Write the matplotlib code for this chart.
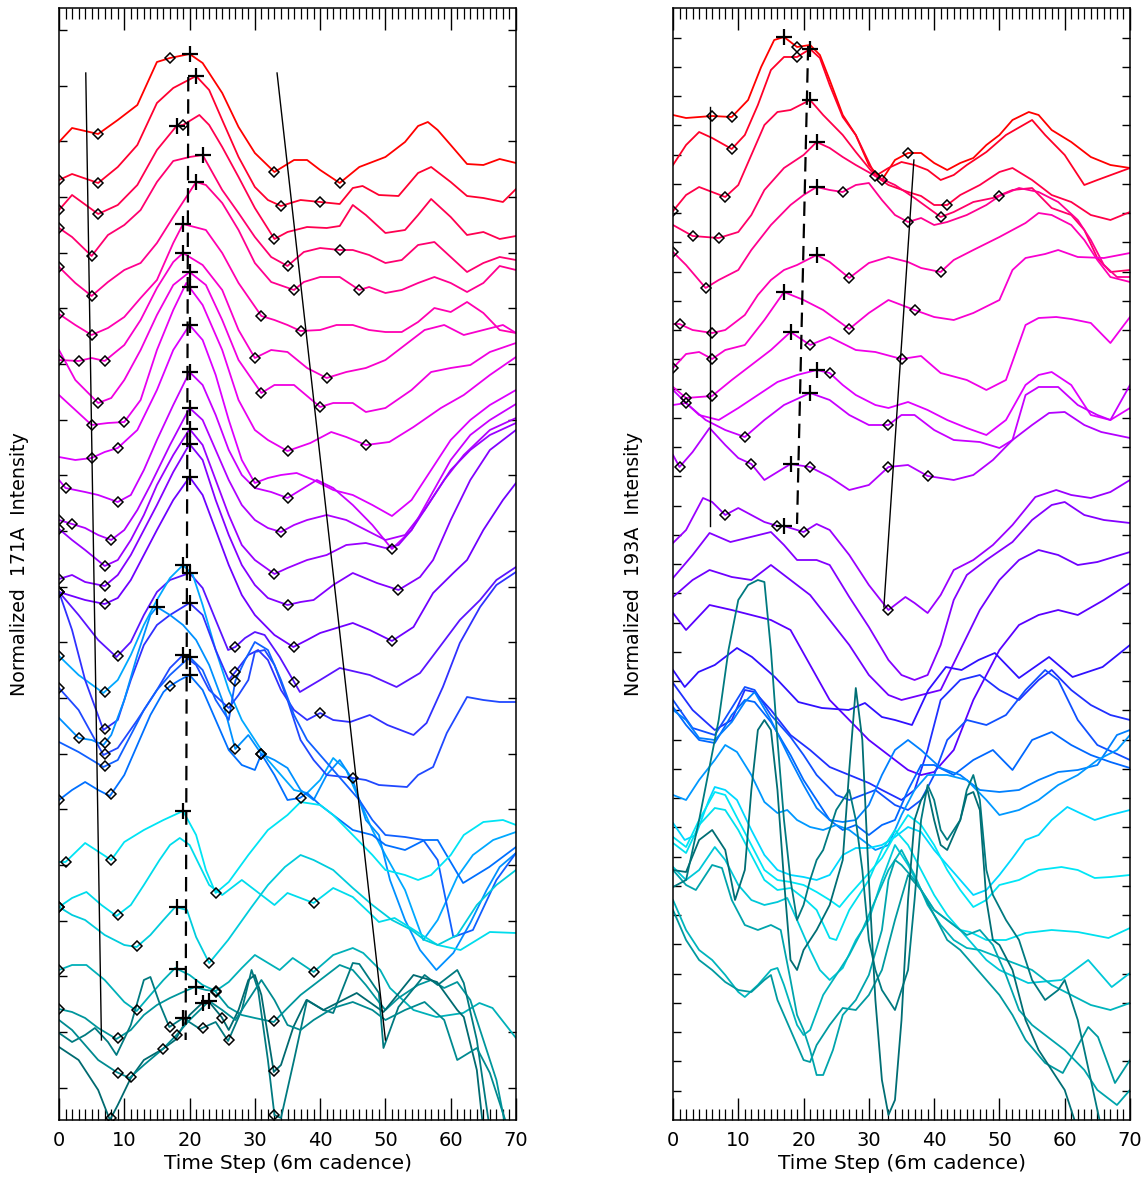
import numpy as np
import matplotlib
matplotlib.use("Agg")
import matplotlib.pyplot as plt

# ---------------- LEFT PANEL (171A) : (time step, offset intensity) ----------------
L01 = [(0,978),(2,992),(6,986),(9,1000),(12,1015),(15,1058),(17,1062),(20,1066),(22,1057),(25,1027),(27.5,993),(30,967),(33,948),(36,960),(38,960),(40,950),(43,937),(46,953),(50,963),(53,978),(55,994),(56.5,998),(58,990),(60,975),(62.5,956),(65,955),(67.5,961),(70,957)]
L02 = [(0,940),(2,946),(6,937),(9,953),(12,975),(15,1017),(17.5,1032),(21,1044),(23,1030),(25,1000),(27.5,963),(30,933),(32,920),(34,914),(37,920),(40,918),(43,916),(45,932),(46.5,934),(49,925),(52,924),(55,947),(57,953),(60,938),(62.5,924),(65,922),(68,918),(70,931)]
L03 = [(0,910),(2,925),(6,906),(9,915),(12,935),(15,970),(18,994),(19,995),(21.5,1005),(23,995),(25,973),(27.5,943),(30,912),(33,881),(35,888),(38,893),(41,892),(43,894),(45,915),(47,905),(50,887),(53,890),(55,905),(57,921),(60,903),(62.5,885),(65,888),(67.5,881),(70,884)]
L04 = [(0,892),(2,883),(5,864),(7.5,885),(10,895),(12.5,910),(15,938),(17.5,959),(20,963),(22,965),(25,930),(27.5,907),(30,883),(32.5,863),(35,854),(37.5,868),(40,872),(43,870),(45,870),(47.5,865),(50,857),(52.5,860),(55,875),(57.5,878),(60,863),(62.5,848),(65,857),(67.5,863),(70,860)]
L05 = [(0,853),(2.5,837),(5,824),(7.5,838),(10,850),(12.5,857),(15,877),(17.5,903),(21,938),(22.5,935),(25,917),(27.5,890),(30,857),(32.5,838),(36,830),(37.5,838),(40,843),(43,843),(46,830),(47.5,833),(50,827),(52.5,830),(55,837),(57.5,843),(60,837),(62.5,828),(65,837),(67.5,854),(70,850)]
L06 = [(0,806),(2.5,795),(5,785),(7.5,792),(10,803),(12.5,822),(15,840),(17.5,877),(19,896),(22.5,890),(25,867),(27.5,837),(31,804),(33,800),(35,795),(37,789),(40,790),(42.5,795),(45,795),(47.5,790),(50,788),(52.5,788),(55,798),(57.5,812),(60,808),(62.5,818),(65,807),(67.5,790),(70,787)]
L07 = [(0,760),(3,759),(5,762),(7,759),(10,775),(12.5,800),(15,832),(17.5,858),(19,867),(22,855),(25,830),(27.5,790),(30,762),(32.5,770),(35,768),(38,752),(41,742),(44,748),(47,752),(50,760),(53,775),(56,790),(59,795),(62,785),(65,790),(68,795),(70,787)]
L08 = [(0,770),(2.5,740),(6,717),(8,722),(10,740),(12.5,770),(15,805),(17.5,835),(20,848),(22.5,835),(25,800),(27.5,760),(31,727),(33,735),(36,735),(40,713),(42,717),(45,717),(47,708),(50,712),(54,730),(57,748),(60,752),(63,755),(66,768),(70,777)]
L09 = [(0,725),(2.5,710),(5,695),(7.5,697),(10,698),(12.5,720),(15,770),(17.5,810),(19.5,837),(22,815),(25,770),(27.5,720),(30,690),(32,680),(35,669),(38.5,677),(41.7,688),(44,683),(47,675),(50.6,678),(54.3,693),(58.5,712),(62,725),(66,745),(70,763)]
L10 = [(0,663),(2.5,660),(5,662),(7,668),(9,672),(12,690),(15,730),(17.5,770),(20,795),(22,780),(24,745),(26,700),(28,660),(30,637),(32,642),(34,645),(36.4,647),(39,640),(42,630),(45,625),(48,615),(51,604),(54,620),(57,650),(60,680),(63,700),(66,715),(70,730)]
L11 = [(0,640),(1,632),(4,628),(6,625),(9,618),(11,625),(13,650),(15,680),(17.5,715),(20,748),(22,735),(24,705),(26,670),(28,645),(30,632),(32.5,628),(35,622),(37,630),(39.5,640),(42,632),(45,615),(48,595),(51,571),(54,590),(57,625),(60,660),(63,685),(66,700),(70,716)]
L12 = [(0,600),(2,596),(4,592),(6,585),(8,580),(10,590),(12,610),(14,635),(17,675),(20,712),(22,700),(24,670),(26,640),(28,615),(30,600),(32,592),(34,588),(36,595),(38,600),(41,605),(44,600),(47,590),(50,580),(53,585),(56,610),(59,640),(62,665),(66,690),(70,702)]
L13 = [(0,591),(2,580),(4,570),(7,554),(9,560),(11,580),(13,605),(15,635),(17.5,665),(20,691),(22,675),(24,640),(26,605),(28,575),(30,560),(33,546),(35,552),(38,560),(41,565),(44,575),(47,577),(50,572),(52,575),(54,590),(57,620),(60,650),(63,670),(66,685),(70,697)]
L14 = [(0,541),(2,545),(4,538),(7,534),(9,545),(11,565),(13,590),(15,615),(17.5,648),(20,676),(22,660),(24,620),(26,585),(28,555),(30,535),(32,522),(35,515),(37,518),(39,520),(42,535),(45,547),(48.7,537),(52,530),(55.3,543),(57.3,560),(60,600),(63,640),(66,670),(70,690)]
L15 = [(0,528),(2,524),(4,520),(7,516),(9,522),(11,540),(13,565),(15,590),(17.5,620),(20,643),(22,625),(24,590),(26,555),(28,525),(30,505),(33,485),(35.9,473),(38,480),(40,487),(45,497),(47.6,490),(51,479),(54.3,493),(57.3,527),(60.4,547),(62.5,560),(65,590),(68,620),(70,637)]
L16 = [(0,528),(3,505),(6,480),(8.8,463),(11,478),(13,505),(15,528),(17,540),(20,547),(22,532),(24,500),(25.9,470),(27,473),(28.5,482),(30,488),(31.5,485),(33.8,463),(36.9,428),(40,440),(43,452),(47.6,445),(51.7,433),(55.3,447),(58.3,473),(61.4,500),(64.5,520),(67,540),(70,553)]
L17 = [(0,464),(3,445),(6.8,427),(9,440),(11,465),(13,495),(15,520),(17,542),(19,555),(20.5,545),(22,515),(24,470),(26,430),(28,400),(30,380),(32,360),(34,345),(36,330),(38,327),(40,340),(42,362),(44,350),(46,320),(48,290),(50,265),(53,230),(55.8,180),(58,200),(61,243),(63.4,265),(66.5,280),(70,288)]
L18 = [(0,528),(2,490),(4,440),(6.8,390),(9,400),(11,440),(13,475),(15,495),(17,505),(20,517),(22,505),(24,470),(26,440),(27,448),(29,465),(30.5,470),(32,460),(34,430),(36,410),(38,400),(40,407),(42,400),(44.6,398),(47.6,405),(50.3,395),(54.3,385),(56.3,397),(58.8,433),(61.4,477),(64.5,513),(67,535),(70,548)]
L19 = [(0,402),(3,382),(5,380),(6.8,375),(8,385),(10,420),(12,465),(14,505),(15,513),(17,505),(19,495),(21,480),(23,455),(25,420),(27,371),(29,385),(31,366),(33,360),(35,352),(37,330),(39,320),(41,345),(43,360),(45,340),(47,300),(49,285),(50.7,240),(53,200),(55.3,170),(57.8,150),(60.4,167),(63,197),(65.5,230),(67.5,253),(70,267)]
L20 = [(0,432),(3,410),(6.8,365),(9,372),(12,400),(15,430),(17,452),(19,465),(21,455),(23,430),(26,412),(27.5,425),(29,440),(30,468),(31.5,470),(33,455),(35,420),(37,380),(39,360),(41,345),(45,342),(47,340),(49,335),(53.3,333),(55,345),(57.3,353),(59.4,387),(62.5,423),(65,420),(67.5,418),(70,418)]
L21 = [(0,378),(3,368),(6.8,353),(9,360),(11,385),(13,410),(15,430),(17,445),(20,463),(22,450),(24,420),(26,400),(27,439),(28.5,460),(30,478),(32,470),(34,440),(36,405),(38,380),(40,365),(42,350),(44,335),(46,320),(48,300),(50,285),(53,283),(55.8,280),(58,260),(60.4,183),(63.4,190),(67,240),(70,267)]
L22 = [(0,320),(2,330),(4,338),(6,330),(7.8,324),(10,345),(12,375),(14,405),(16,428),(17,434),(18.5,440),(20,445),(22,430),(24,400),(26,370),(28,355),(30,350),(31,366),(33,345),(35,320),(36.9,322),(38,327),(40,315),(42,305),(45,290),(48,285),(50,275),(53,270),(56,280),(58,280),(61.9,237),(65.9,253),(70,273)]
L23 = [(0,258),(1,258),(4,277),(8,260),(10,278),(13,290),(16,300),(19,309),(21,285),(22.5,250),(24,227),(26,238),(29,265),(32,290),(35,305),(37,318),(40,315),(42,305),(45,285),(48,265),(50,250),(53,245),(55,240),(57,245),(60,265),(62,285),(65,298),(68,300),(70,295)]
L24 = [(0,213),(2,222),(4.2,228),(6.5,215),(8.8,204),(11,215),(13,235),(15.4,260),(17,275),(18.5,282),(20,275),(21.5,255),(23,235),(25,225),(28,240),(31,225),(33,215),(35,227),(37,222),(39,217),(42,232),(45,223),(47.6,207),(49,198),(51.4,202),(53.9,192),(58,175),(61.5,170),(64,180),(66,188),(70,187)]
L25 = [(0,213),(2,205),(4,200),(7,185),(10,175),(11.9,173),(14,185),(16,200),(17.8,213),(19.6,210),(21,183),(23,157),(25.9,180),(29.5,213),(32,235),(34.6,253),(37,265),(39,260),(42,250),(45,232),(48,215),(51,200),(54,190),(56,180),(58,175),(61,185),(64,215),(67,235),(70,250)]
L26 = [(0,150),(2,155),(4.2,155),(7,140),(10,118),(11.9,109),(14,125),(16,140),(17.8,152),(20,145),(22,135),(24,129),(26,138),(28,152),(30,165),(33.8,150),(35.8,162),(39,148),(42,165),(45,172),(46.6,167),(49.2,150),(50.7,132),(54.3,110),(57.8,103),(61.9,107),(64.4,117),(66.4,112),(70,82)]
L27 = [(0,111),(2,108),(4,102),(6,92),(8.8,81),(11,90),(13,105),(15,115),(17,122),(19,128),(20.8,133),(22.5,130),(23.9,129),(25.9,113),(28,105),(30,102),(32.9,98),(35,112),(37,125),(40,140),(43,155),(45,150),(47,135),(49,118),(50,110),(52,122),(55,135),(57,140),(59,132),(61,138),(63,120),(65,80),(67,40),(68.5,-10)]
L28 = [(0,87),(2,78),(4,85),(5.5,92),(7.5,78),(8.8,65),(11,95),(13,140),(14,143),(15.5,115),(16.9,93),(19,102),(21.6,91),(24,98),(25.9,79),(28,110),(29.5,150),(30.5,130),(32,60),(33,5),(34,2),(36,60),(38,120),(40.5,110),(42,107),(45,157),(46,156),(49,127),(49.7,72),(52,113),(56,145),(58,135),(61,150),(62,137),(64,80),(66,-10)]
L29 = [(0,73),(3,60),(6,30),(7.8,0),(9,15),(11,42),(13,60),(15.9,71),(17.8,80),(20,105),(22.1,118),(23,118),(24.9,103),(26,90),(27.5,110),(29,140),(30,145),(31,125),(32.9,48),(34,55),(35.9,93),(37.9,120),(40.5,110),(45.6,127),(49.7,108),(51.2,120),(54.3,145),(57.9,138),(61,110),(62,103),(64,50),(65,-10)]
L30 = [(0,100),(2,90),(4,75),(6,60),(8.8,48),(10.8,42),(13,55),(15.9,71),(18,85),(20,100),(23,119),(25,110),(27,100),(29,120),(31,140),(33,120),(35,95),(37,90),(39,100),(42,112),(45,118),(48,110),(50,100),(53,110),(56,118),(59,100),(61,60),(64,72),(66,47),(68.6,-5)]

LEFT_CURVES = [L01, L02, L03, L04, L05, L06, L07, L08, L09, L10, L11, L12, L13, L14, L15,
               L16, L17, L18, L19, L20, L21, L22, L23, L24, L25, L26, L27, L28, L29, L30]
LEFT_COLORS = ["#ff0000", "#ff0030", "#ff0050", "#ff0070", "#ff0090", "#ff00b0", "#f800cc",
               "#f000e0", "#e800f0", "#dc00ff", "#c800ff", "#b000ff", "#9a00ff", "#8400ff",
               "#7000ff", "#5a14ff", "#00a8ff", "#3030ff", "#0090ff", "#2048ff", "#1060ff",
               "#0070ff", "#00e4f4", "#00dcec", "#00ccdc", "#00b0b8", "#00969c", "#007a80",
               "#006a70", "#008a90"]
LEFT_MIN = [[6,17,33,43],[0,6,34,40],[0,6,19,33],[0,5,35,43],[0,5,36,46],[0,5,31,37],
            [0,3,7,30,41],[6,31,40],[5,10,35,47],[5,9,30],[1,9,35,51],[0,2,8,34],[0,7,33],
            [0,7,35,52],[0,7,36,51],[0,9,27,36],[0,7],[0,7,27,40],[3,7,27,31],[0,7,26,45],
            [7,27],[0,8,17,31,37],[1,8,24],[0,9,39],[0,12,23],[0,12,24,39],[0,9,24,33],
            [17,22,26,33],[8,16,25,33],[9,11,18]]
LEFT_MAX = [[20],[21],[18],[22],[21],[19],[19],[20],[20],[20],[20],[20],[20],[20],[20],
            [20],[19],[20],[15],[19],[20],[20],[19],[],[18],[18],[21],[19],[22],[23]]

# ---------------- RIGHT PANEL (193A) ----------------
R01 = [(0,1005),(2,1002),(6,1004),(9,1003),(11.5,1020),(13.5,1053),(15.5,1080),(17,1083),(19,1073),(21,1075),(22.5,1065),(24,1040),(26,1005),(28,985),(30,955),(32,940),(34,960),(36,967),(38,967),(40,957),(42,950),(44,957),(46,962),(48,975),(50,985),(52,1000),(54.5,1008),(56,1005),(58,990),(61,978),(64,963),(67,955),(70,952)]
R02 = [(0,955),(2,975),(4,988),(6,982),(9,971),(11,985),(13,1015),(15,1050),(17,1063),(19,1063),(21,1071),(22.5,1062),(24,1035),(26,1003),(28,985),(31,944),(33,952),(35,958),(37,955),(39,950),(41,940),(43,945),(45,955),(48,968),(51,985),(55,1000),(57,985),(60,965),(63,935),(65,940),(70,952)]
R03 = [(0,909),(2,925),(4,933),(6,928),(8,923),(10,935),(12,965),(14,995),(16,1008),(18,1010),(21,1020),(23,1005),(26,985),(28,968),(31,944),(33,935),(36,928),(38,924),(40,915),(42,915),(44,925),(47,935),(50,948),(52,952),(55,940),(58,925),(61,918),(64,905),(67,900),(70,908)]
R04 = [(0,895),(3,884),(7,882),(10,888),(12,905),(14,930),(17,952),(20,965),(22,978),(24,972),(26,963),(28,955),(31,944),(34,935),(37,922),(41,903),(43,908),(46,918),(49,922),(52,930),(55,932),(58,912),(61,905),(63,890),(65,862),(67,848),(70,850)]
R05 = [(0,868),(2,855),(5,832),(7,840),(10,850),(12,870),(15,895),(18,915),(20,925),(22,933),(24,930),(26,928),(28,935),(30,937),(32,920),(34,905),(36,898),(38,902),(40,895),(42,898),(45,905),(48,915),(50,924),(53,932),(56,928),(59,918),(62,900),(64,880),(66,855),(68,843),(70,843)]
R06 = [(0,796),(1,796),(3,790),(6,787),(8,790),(11,805),(13,825),(15,840),(17,850),(19,855),(22,865),(24,858),(27,842),(30,857),(33,863),(36,858),(38,852),(41,848),(43,860),(46,870),(50,883),(54,897),(56,907),(58,905),(61,895),(63,880),(65,860),(67,843),(70,838)]
R07 = [(0,752),(2,766),(4,768),(6,761),(8,770),(11,775),(14,800),(17,828),(20,820),(23,810),(27,791),(30,807),(33,820),(37,810),(40,803),(43,800),(46,807),(50,820),(52,850),(54,862),(57,866),(59,870),(62,863),(66,862),(70,867)]
R08 = [(0,733),(2,722),(6,724),(9,740),(12,755),(15,770),(18,788),(21,775),(24,783),(28,770),(31,768),(35,761),(38,764),(41,747),(45,740),(48,730),(51,740),(54,795),(56,802),(58.7,803),(61,801),(64,797),(67,777),(70,803)]
R09 = [(0,715),(2,717),(4,705),(7,700),(10,712),(13,725),(16,738),(19,745),(22,750),(24,747),(26,735),(28,725),(31,715),(33,712),(36,718),(39,710),(42,700),(45,692),(48,685),(51,700),(54,735),(56,745),(58,748),(61,735),(64,705),(67,700),(70,712)]
R10 = [(0,730),(2,717),(5,700),(8,690),(11,683),(14,700),(17,715),(21,727),(24,720),(27,705),(30,695),(33,695),(35,705),(37,705),(40,690),(43,680),(47,678),(50,672),(52,680),(54,725),(56,733),(59,733),(62,715),(65,705),(67,700),(70,735)]
R11 = [(0,665),(1,653),(3,668),(5.6,692),(8,675),(10,662),(12,656),(14,640),(16,648),(18,656),(21,653),(24,643),(27,630),(30,635),(33,653),(36,655),(39,644),(43,640),(46,645),(49,660),(52,680),(55,695),(57.6,707),(60,708),(63,695),(65.6,688),(70,682)]
R12 = [(0,577),(2,590),(4.6,622),(6,618),(8,605),(10,612),(12,605),(14,598),(16,594),(17,594),(20,588),(22,596),(24,590),(27,565),(30,535),(33,510),(35.6,523),(37,517),(39,507),(41,525),(43,550),(46,560),(49,575),(52,595),(55.5,623),(58.7,630),(61,625),(64,622),(67,628),(70,640)]
R13 = [(0,542),(3,565),(5.6,587),(8.8,578),(11.9,583),(15,588),(17,575),(19,560),(22,560),(24,555),(27,523),(30,493),(33,460),(35,445),(37,440),(39,445),(41,475),(43,520),(45,545),(48,560),(52,578),(55,600),(58,615),(60,618),(63,605),(66,600),(70,597)]
R14 = [(0,523),(3,540),(5.6,550),(9,543),(12,540),(15,555),(18,540),(21,525),(24,500),(27,475),(30,445),(33,425),(35,420),(38,425),(41,430),(44,470),(47,510),(50,540),(53,560),(56,570),(59,565),(62,555),(65,558),(70,568)]
R15 = [(0,507),(2,490),(5.6,515),(9,510),(12,505),(15,500),(18,490),(21,455),(24,420),(27,400),(30,380),(33,365),(36,350),(38,345),(40,348),(43,370),(46,420),(50,470),(53,495),(56,505),(59,510),(62,505),(66,520),(70,537)]
R16 = [(0,450),(1.8,433),(3.9,448),(6.4,455),(9.8,472),(12.1,463),(15.6,443),(19.2,418),(22.8,412),(26.9,410),(29.4,417),(32,403),(34,400),(36.6,395),(39.1,430),(41.8,453),(44.2,450),(46.8,460),(49.3,467),(53,442),(57.6,463),(61.2,443),(65.8,453),(70,475)]
R17 = [(0,437),(3,410),(6.4,390),(9,400),(11,430),(12.5,428),(15,410),(18,385),(21,370),(24,353),(27,345),(30,337),(32,330),(35,320),(37,330),(39,370),(41,420),(44,440),(47,445),(50,430),(53,420),(56,440),(58,450),(61,430),(64,415),(67,405),(70,400)]
R18 = [(0,420),(3,392),(6.4,385),(9,412),(11,433),(12.5,430),(15,405),(18,383),(20,365),(22,345),(25,325),(27,320),(29,325),(31,330),(34,315),(36,310),(38,320),(40,345),(42,380),(45,400),(48,395),(51,405),(54,430),(57,450),(59,440),(62,400),(65,375),(70,360)]
R19 = [(0,413),(2,395),(4,380),(6.4,377),(9,405),(11,420),(12.5,418),(15,398),(18,365),(20,340),(22,320),(24,300),(26,290),(28,295),(30,285),(32,295),(34,300),(36,330),(38,355),(40,355),(43,345),(46,360),(49,370),(52,350),(55,380),(58,388),(61,375),(64,365),(67,358),(70,352)]
R20 = [(0,410),(2,400),(4,382),(6.4,380),(9,398),(11,418),(12.5,428),(15,400),(18,360),(20,335),(22,312),(24,300),(26,298),(28,300),(30,315),(32,345),(34,370),(36,380),(38,370),(41,352),(44,345),(47,330),(50,328),(53,330),(56,340),(59,348),(62,350),(65,355),(68,385),(70,390)]
R21 = [(0,325),(2,320),(4,340),(6.4,360),(8,375),(9.8,368),(12,345),(14,318),(16,307),(17.5,310),(19,300),(21,293),(23,290),(25,295),(27,290),(29,280),(31,270),(33,275),(35,305),(37,330),(39,345),(42,345),(45,340),(48,320),(50,305),(53,310),(56,320),(59,335),(62,345),(65,360),(68,370),(70,385)]
R22 = [(0,297),(1.8,280),(3.5,285),(5.5,320),(6.4,333),(8,330),(9.8,320),(12,290),(14,265),(16,250),(18,245),(20,243),(22,240),(24,245),(26,265),(28,272),(30,272),(32,275),(34,283),(36,293),(38,288),(40,270),(42,255),(44,240),(46,225),(48,230),(50,245),(52,262),(54,280),(56,285),(58,300),(60.4,313),(62,308),(64.6,300),(67,305),(70,310)]
R23 = [(0,283),(2,273),(4,300),(6.4,328),(8,325),(10,300),(12,275),(14,250),(16,240),(18,238),(20,235),(22,228),(24,220),(25.5,213),(27,225),(30,247),(32,262),(34,285),(36,305),(38,295),(40,275),(42,250),(44,230),(46,213),(48,220),(50,235),(53,240),(56,250),(59.5,253),(62,250),(64.6,242),(67,243),(70,245)]
R24 = [(0,277),(2,267),(4,295),(6.4,312),(8,310),(10,290),(12,265),(14,240),(16,230),(18,232),(20,222),(22,210),(24,182),(25,180),(27,210),(30,240),(32,270),(34,290),(36,275),(38,250),(40,225),(42,205),(44,190),(45.5,188),(48,180),(51,180),(54,187),(58,190),(62,188),(66.7,182),(70,192)]
R25 = [(0,253),(2,240),(4,250),(6.4,273),(8,260),(10,235),(12,220),(14,215),(16,218),(17.5,222),(19,200),(21,170),(22.5,150),(24,140),(26,152),(28,180),(30,200),(32,240),(34,275),(36,255),(38,230),(40,210),(42,200),(44,190),(46,175),(48,160),(50,150),(54.4,137),(59.5,140),(63.6,160),(67.2,133),(70,147)]
R26 = [(0,220),(2,190),(4,170),(6,160),(8,145),(10,128),(11,123),(13,135),(15,150),(16,152),(17,135),(19,95),(20,85),(21,90),(23,125),(25,145),(27,165),(29,190),(31,220),(33,250),(35,270),(37,245),(39,215),(41,195),(43,180),(45,172),(47,170),(49,165),(51,160),(55,150),(58,135),(61,125),(64,115),(67,110),(70,117)]
R27 = [(0,210),(2,180),(4,160),(6,150),(8,138),(10,130),(12,128),(14,140),(15,145),(16,120),(18,90),(19,75),(20,60),(21,58),(22,75),(24,95),(26,112),(28,110),(30,125),(32,150),(34,200),(36,245),(38,230),(40,205),(42,180),(44,170),(46,155),(48,140),(50,125),(52,105),(54,80),(57,57),(59.7,47),(63.6,93),(65.1,83),(67.7,37),(70,60)]
R28 = [(0,250),(2,235),(3.5,230),(6,255),(7.5,252),(9,220),(11,195),(13,190),(15,195),(16.5,190),(18,140),(19,105),(20,90),(21,70),(22,45),(23,45),(24.5,70),(26,105),(28,120),(30,145),(32,190),(33,240),(34,260),(35,255),(37,240),(38,230),(40,210),(43,195),(45,185),(47,190),(49,175),(51,145),(53,110),(55,95),(57,85),(60,70),(63,50),(65,30),(68,15),(70,30)]
R29 = [(0,233),(2,240),(4,300),(5.5,350),(7,400),(8.5,470),(10,520),(11.5,535),(13,540),(14,538),(15,470),(16,380),(17,300),(18,240),(19,200),(20,215),(21,240),(22,260),(23,270),(25,310),(27,330),(28,300),(29,250),(30,180),(31,150),(32,130),(34,110),(36,150),(37,220),(38,300),(39,335),(40,320),(41,290),(42,280),(44,300),(45,330),(46,345),(47,320),(48,250),(49,225),(51,200),(53,180),(55,140),(57,120),(59,130),(60,140),(62,100),(64,40),(66,-20)]
R30 = [(0,250),(2,248),(4,280),(6,290),(8,270),(9.5,220),(11,250),(12,330),(13,390),(14,400),(15,390),(16,330),(17,240),(18,160),(19,150),(20,170),(22,190),(24,215),(26,260),(27,350),(28,432),(29,380),(30,240),(31,120),(32,40),(33,5),(34,20),(35,100),(36,220),(37,300),(38,320),(39,330),(40,300),(41,275),(42,270),(44,300),(45,325),(46,328),(47,310),(48,220),(49,180),(50,175),(52,150),(54,100),(56,70),(58,50),(60,30),(62,-10)]

RIGHT_CURVES = [R01, R02, R03, R04, R05, R06, R07, R08, R09, R10, R11, R12, R13, R14, R15,
                R16, R17, R18, R19, R20, R21, R22, R23, R24, R25, R26, R27, R28, R29, R30]
RIGHT_COLORS = ["#ff0000", "#ff0028", "#ff0048", "#ff0068", "#ff0090", "#ff00b4", "#f800d0",
                "#f000e8", "#e000ff", "#c800ff", "#b400ff", "#9a00ff", "#8400ff", "#7000ff",
                "#5a00ff", "#3010ff", "#2030ff", "#1050ff", "#0068ff", "#0080ff", "#0098ff",
                "#00d8ff", "#00e6f6", "#00e0ee", "#00c8d8", "#00b4bc", "#009aa0", "#00a4ac",
                "#007a80", "#006e74"]
RIGHT_MIN = [[6,9,19,32,36],[9,19,31],[0,8,42],[3,7,41],[0,5,26,36,50],[1,6,27,41],
             [0,6,27,37],[2,6,21,35],[24],[2,11,33],[1,12,21,33,39],[8,16,20,33]] + [[]] * 18
RIGHT_MAX = [[17],[21],[21],[22],[22],[22],[17],[18],[22],[21],[18],[17]] + [[]] * 18

# guide lines (time step, intensity) end points
LEFT_SOLID = [[(4.1, 1047), (6.5, 80)], [(33.4, 1047), (50.0, 80)]]
LEFT_DASH = [(19.8, 1043), (19.4, 80)]
RIGHT_SOLID = [[(5.6, 1013), (5.6, 594)], [(36.9, 960), (32.3, 513)]]
RIGHT_DASH = [(20.7, 1074), (19.0, 596)]

W, H = 1148, 1182
fig = plt.figure(figsize=(W / 100, H / 100), dpi=100)


def draw_panel(rect, curves, colors, mins, maxs, solid, dash, yticks, ylabel):
    ax = fig.add_axes(rect)
    for c, col in zip(curves, colors):
        t, v = np.array(c, dtype=float).T
        ax.plot(t, v, color=col, lw=1.3, zorder=2)
    for c, mn, mx in zip(curves, mins, maxs):
        t, v = np.array(c, dtype=float).T
        if mn:
            ax.plot(mn, np.interp(mn, t, v), ls="none", marker="D", ms=5.2,
                    mfc="none", mec="black", mew=1.1, zorder=5)
        if mx:
            ax.plot(mx, np.interp(mx, t, v), ls="none", marker="+", ms=11,
                    mec="black", mew=1.6, zorder=5)
    for seg in solid:
        (x0, y0), (x1, y1) = seg
        ax.plot([x0, x1], [y0, y1], color="black", lw=1.0, zorder=4)
    (x0, y0), (x1, y1) = dash
    ax.plot([x0, x1], [y0, y1], color="black", lw=1.6, ls=(0, (6.5, 3.5)), zorder=4)

    ax.set_xlim(0, 70)
    ax.set_ylim(0, 1112)
    ax.set_xticks(np.arange(0, 71, 10))
    ax.set_xticks(np.arange(0, 71, 1), minor=True)
    ax.set_yticks(yticks)
    ax.set_yticklabels([])
    ax.tick_params(axis="x", which="major", direction="in", length=15.5, width=1.0,
                   top=True, bottom=True, labelsize=14, pad=8)
    ax.tick_params(axis="x", which="minor", direction="in", length=8, width=0.9,
                   top=True, bottom=True)
    ax.tick_params(axis="y", which="major", direction="in", length=6, width=1.0,
                   left=True, right=True)
    for s in ax.spines.values():
        s.set_linewidth(1.1)
    ax.set_xlabel("Time Step (6m cadence)", fontsize=14.5, labelpad=3)
    ax.set_ylabel(ylabel, fontsize=13.7, labelpad=18)
    return ax


bottom = (H - 1120) / H
height = 1112 / H
draw_panel([59 / W, bottom, 457 / W, height], LEFT_CURVES, LEFT_COLORS, LEFT_MIN, LEFT_MAX,
           LEFT_SOLID, LEFT_DASH, 1090 - 55.67 * np.arange(20), "Normalized  171A  Intensity")
draw_panel([673 / W, bottom, 457 / W, height], RIGHT_CURVES, RIGHT_COLORS, RIGHT_MIN, RIGHT_MAX,
           RIGHT_SOLID, RIGHT_DASH, 1082.3 - 29.25 * np.arange(37), "Normalized  193A  Intensity")

fig.savefig("out.png", dpi=100)
